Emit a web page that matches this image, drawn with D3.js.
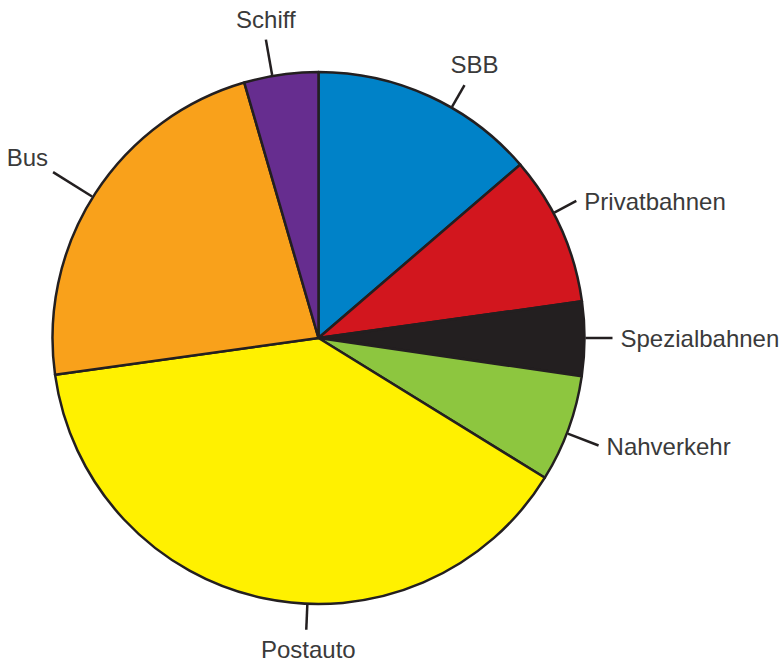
<!DOCTYPE html>
<html>
<head>
<meta charset="utf-8">
<script src="https://cdn.jsdelivr.net/npm/d3@7/dist/d3.min.js"></script>
<style>
  html, body { margin: 0; padding: 0; background: #fff; }
  svg { display: block; }
  text { font-family: "Liberation Sans", Arial, Helvetica, sans-serif; }
</style>
</head>
<body>
<svg id="chart" width="780" height="663"></svg>
<script>
// ---- data ----
const categories = ["SBB", "Privatbahnen", "Spezialbahnen", "Nahverkehr", "Postauto", "Bus", "Schiff"];
const values = [13.7, 9.1, 4.5, 6.5, 39.0, 22.7, 4.5];
const colors = ["#0082C8", "#D2161E", "#231F20", "#8DC63F", "#FFF100", "#F9A11B", "#662D8F"];

// ---- label layout (presentation) ----
const labelAngleDeg = [30, 62, 90, 111, 182.4, 302, 350];
const labelLineLen = [25, 25, 27, 33, 25, 46, 36];

const svg = d3.select("#chart");
const cx = 318.5, cy = 338, r = 266;
const g = svg.append("g").attr("transform", `translate(${cx},${cy})`);

const data = categories.map((c, i) => ({ name: c, value: values[i], color: colors[i], i }));
const pie = d3.pie().sort(null).value(d => d.value).startAngle(0).endAngle(2 * Math.PI);
const arc = d3.arc().innerRadius(0).outerRadius(r);

g.selectAll("path.slice")
  .data(pie(data))
  .join("path")
  .attr("class", "slice")
  .attr("d", arc)
  .attr("fill", d => d.data.color)
  .attr("stroke", "#231F20")
  .attr("stroke-width", 2.5)
  .attr("stroke-linejoin", "round");

// leader lines and labels
data.forEach((d, i) => {
  const a = labelAngleDeg[i] * Math.PI / 180;
  const sx = Math.sin(a), sy = -Math.cos(a);
  const x0 = sx * (r + 1), y0 = sy * (r + 1);
  const L = labelLineLen[i];
  const x1 = sx * (r + 1 + L), y1 = sy * (r + 1 + L);
  g.append("line")
    .attr("x1", x0).attr("y1", y0).attr("x2", x1).attr("y2", y1)
    .attr("stroke", "#231F20").attr("stroke-width", 2.5);

  let tx, ty, anchor;
  const deg = labelAngleDeg[i];
  if (deg <= 35 || deg >= 325) {           // top
    anchor = "middle"; tx = x1 + 20 * Math.max(sx, 0); ty = y1 - 12;
  } else if (deg > 145 && deg < 215) {     // bottom
    anchor = "middle"; tx = x1 + 2; ty = y1 + 28;
  } else if (deg < 180) {                  // right side
    anchor = "start"; tx = x1 + 8; ty = y1 + 9;
  } else {                                 // left side
    anchor = "end"; tx = x1 - 5; ty = y1 - 6;
  }
  g.append("text")
    .attr("x", tx).attr("y", ty)
    .attr("text-anchor", anchor)
    .attr("font-size", 24)
    .attr("fill", "#3a3a3a")
    .text(d.name);
});
</script>
</body>
</html>
